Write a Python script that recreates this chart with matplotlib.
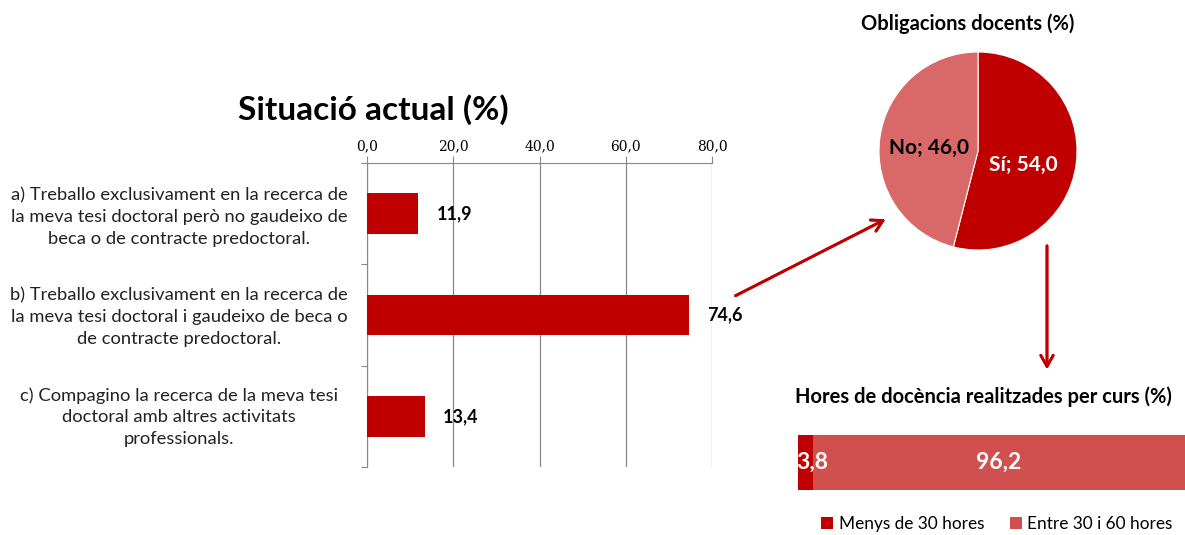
import matplotlib.pyplot as plt
import numpy as np

plt.rcParams['font.family'] = ['Lato', 'DejaVu Sans']

# data
categories = ['a) Treballo exclusivament en la recerca de\nla meva tesi doctoral però no gaudeixo de\nbeca o de contracte predoctoral.',
              'b) Treballo exclusivament en la recerca de\nla meva tesi doctoral i gaudeixo de beca o\nde contracte predoctoral.',
              'c) Compagino la recerca de la meva tesi\ndoctoral amb altres activitats\nprofessionals.']
situacio = [11.9, 74.6, 13.4]
xticks = [0, 20, 40, 60, 80]

pie_labels = ['Sí', 'No']
pie_values = [54.0, 46.0]

hores_labels = ['Menys de 30 hores', 'Entre 30 i 60 hores']
hores_values = [3.8, 96.2]

dark = '#C00000'
pie_light = '#D96868'
bar_light = '#D04F4F'

fig = plt.figure(figsize=(11.85, 5.35), dpi=100)

def fmt(v):
    return ('%.1f' % v).replace('.', ',')

# --- bar chart ---
ax = fig.add_axes([367/1185, 1-467/535, 345/1185, 304/535])
ypos = np.arange(len(categories))
ax.barh(ypos, situacio, height=0.4, color=dark, zorder=3)
ax.set_xlim(0, 80)
ax.set_ylim(2.5, -0.5)
ax.xaxis.tick_top()
ax.set_xticks(xticks)
ax.set_xticklabels([fmt(t) for t in xticks], family='DejaVu Serif', fontsize=10)
ax.tick_params(axis='x', length=5, color='#888888', pad=2)
ax.grid(axis='x', color='#888888', linewidth=0.9, zorder=0)
for s in ['right', 'bottom']:
    ax.spines[s].set_visible(False)
ax.spines['top'].set_color('#888888')
ax.spines['left'].set_color('#888888')
ax.set_yticks([-0.5, 0.5, 1.5, 2.5], minor=False)
ax.set_yticklabels([])
ax.tick_params(axis='y', length=4, color='#888888')
for i, v in enumerate(situacio):
    ax.text(v + 4.2, i, fmt(v), va='center', ha='left', fontsize=13, fontweight='bold')
for i, c in enumerate(categories):
    fig.text(179/1185, 1 - (217 + i*100)/535, c, ha='center', va='center',
             fontsize=13.2, color='#222222', linespacing=1.42)
fig.text(373/1185, 1-110/535, 'Situació actual (%)', ha='center', va='center',
         fontsize=24, fontweight='bold')

# --- pie ---
axp = fig.add_axes([(978-100)/1185, 1-(151+100)/535, 200/1185, 200/535])
axp.pie(pie_values, colors=[dark, pie_light], startangle=90, counterclock=False,
        wedgeprops=dict(linewidth=0.8, edgecolor='white'))
axp.set_xlim(-1.01, 1.01)
axp.set_ylim(-1.01, 1.01)
axp.set_aspect('equal')
axp.text(0.46, -0.14, '%s; %s' % (pie_labels[0], fmt(pie_values[0])), ha='center', va='center',
         color='white', fontsize=15, fontweight='bold')
axp.text(-0.49, 0.03, '%s; %s' % (pie_labels[1], fmt(pie_values[1])), ha='center', va='center',
         color='black', fontsize=15, fontweight='bold')
fig.text(968/1185, 1-24/535, 'Obligacions docents (%)', ha='center', va='center',
         fontsize=14.5, fontweight='bold')

# --- stacked bar ---
axs = fig.add_axes([798/1185, 1-490/535, 387/1185, 55/535])
left = 0
cols = [dark, bar_light]
for v, c, lab in zip(hores_values, cols, hores_labels):
    axs.barh(0, v, left=left, color=c, height=1.0, label=lab)
    cx = left + v/2 if v > 10 else left + v/2 + 1.8
    axs.text(cx, 0, fmt(v), ha='center', va='center', color='white', fontsize=16.5, fontweight='bold')
    left += v
axs.set_xlim(0, 100)
axs.set_ylim(-0.5, 0.5)
axs.axis('off')
fig.text(983/1185, 1-397/535, 'Hores de docència realitzades per curs (%)', ha='center', va='center',
         fontsize=14.5, fontweight='bold')
fig.legend(handles=axs.patches, labels=hores_labels, loc='center', bbox_to_anchor=(997/1185, 1-524/535),
           ncol=2, frameon=False, fontsize=12.4, handlelength=0.7, handleheight=0.7, handletextpad=0.3,
           columnspacing=1.5)

# --- arrows ---
fig.add_artist(plt.annotate('', xy=(888/1185, 1-218/535), xytext=(733/1185, 1-297/535),
                            xycoords='figure fraction', textcoords='figure fraction',
                            arrowprops=dict(arrowstyle='->,head_length=0.8,head_width=0.45', color=dark, lw=2)))
fig.add_artist(plt.annotate('', xy=(1047/1185, 1-372/535), xytext=(1047/1185, 1-243/535),
                            xycoords='figure fraction', textcoords='figure fraction',
                            arrowprops=dict(arrowstyle='->,head_length=0.8,head_width=0.45', color=dark, lw=2)))

fig.savefig('out.png', dpi=100)
